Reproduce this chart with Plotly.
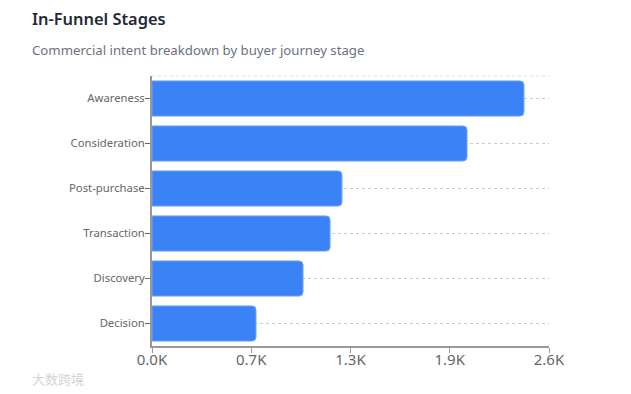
import plotly.graph_objects as go

categories = ["Awareness", "Consideration", "Post-purchase", "Transaction", "Discovery", "Decision"]
values = [2436, 2063, 1244, 1166, 989, 681]
x_tickvals = [0, 650, 1300, 1950, 2600]
x_ticktext = ["0.0K", "0.7K", "1.3K", "1.9K", "2.6K"]

FONT = "Noto Sans, Open Sans, sans-serif"

fig = go.Figure(go.Bar(
    y=categories, x=values, orientation="h",
    marker=dict(color="#3b82f6", cornerradius=4, line=dict(width=1, color="#6ea3f8")),
    width=0.78, hoverinfo="skip",
))

fig.update_layout(
    width=623, height=386, autosize=False,
    margin=dict(l=144, r=82, t=68, b=48),
    paper_bgcolor="white", plot_bgcolor="white",
    showlegend=False,
    font=dict(family=FONT),
    xaxis=dict(
        range=[0, 2600], tickvals=x_tickvals, ticktext=x_ticktext,
        showgrid=False, zeroline=False,
        showline=True, linecolor="#999999", linewidth=2,
        ticks="outside", ticklen=5, tickcolor="#999999", tickwidth=1,
        ticklabelstandoff=-6,
        tickfont=dict(size=15, color="#666666", family=FONT),
    ),
    yaxis=dict(
        categoryorder="array", categoryarray=categories[::-1],
        showgrid=True, gridcolor="#cccccc", griddash="3px,3px", gridwidth=1,
        zeroline=False,
        showline=True, linecolor="#999999", linewidth=2,
        ticks="outside", ticklen=5, tickcolor="#666666", tickwidth=1,
        ticklabelstandoff=-2,
        tickfont=dict(size=11.3, color="#666666", family=FONT),
    ),
    shapes=[dict(type="line", xref="paper", yref="paper", x0=0, x1=1, y0=1, y1=1,
                 line=dict(color="#dddddd", width=1, dash="3px,3px"), layer="below")],
    annotations=[
        dict(text="In-Funnel Stages", xref="paper", yref="paper",
             x=-0.307, y=1.214, xanchor="left", yanchor="middle", showarrow=False,
             font=dict(size=16.4, color="#1f2937", family=FONT, weight=600)),
        dict(text="Commercial intent breakdown by buyer journey stage", xref="paper", yref="paper",
             x=-0.307, y=1.096, xanchor="left", yanchor="middle", showarrow=False,
             font=dict(size=13.2, color="#6b7280", family=FONT)),
        dict(text="大数跨境", xref="paper", yref="paper",
             x=-0.307, y=-0.122, xanchor="left", yanchor="middle", showarrow=False,
             font=dict(size=13, color="#d4d4d4", family="Noto Sans CJK SC")),
    ],
)

fig.write_html("out.html", config=dict(displayModeBar=False))
